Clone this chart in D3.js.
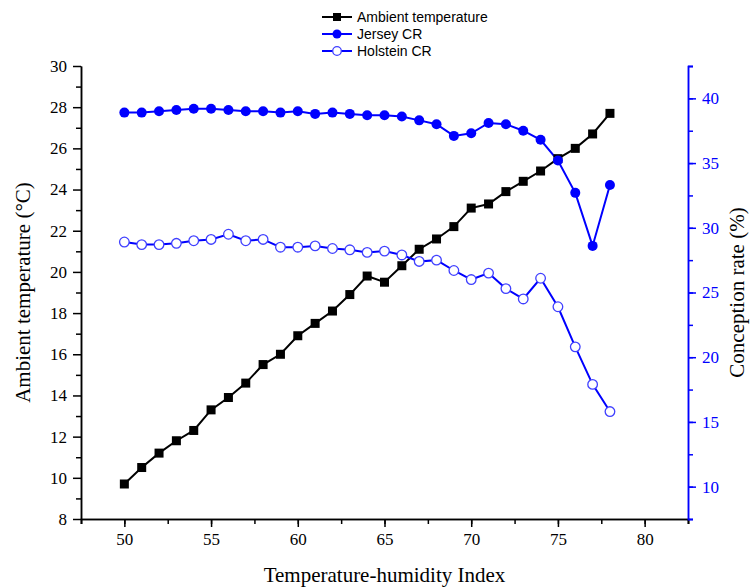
<!DOCTYPE html>
<html><head><meta charset="utf-8">
<script src="https://cdn.jsdelivr.net/npm/d3@7"></script>
<style>body{margin:0;background:#fff}svg{display:block}
.tick text{font-family:'Liberation Serif','Times New Roman',serif !important;}
</style>
</head><body>
<script>
const thi = [50,51,52,53,54,55,56,57,58,59,60,61,62,63,64,65,66,67,68,69,70,71,72,73,74,75,76,77,78];
const ambient = [9.7,10.5,11.2,11.8,12.3,13.3,13.9,14.6,15.5,16.0,16.9,17.5,18.1,18.9,19.8,19.5,20.3,21.1,21.6,22.2,23.1,23.3,23.9,24.4,24.9,25.5,26.0,26.7,27.7];
const jersey = [38.9,38.9,39.0,39.1,39.2,39.2,39.1,39.0,39.0,38.9,39.0,38.8,38.9,38.8,38.7,38.7,38.6,38.3,38.0,37.1,37.3,38.1,38.0,37.5,36.8,35.2,32.7,28.6,33.3];
const holstein = [28.9,28.7,28.7,28.8,29.0,29.1,29.5,29.0,29.1,28.5,28.5,28.6,28.4,28.3,28.1,28.2,27.9,27.4,27.5,26.7,26.0,26.5,25.3,24.5,26.1,23.9,20.8,17.9,15.8];
const xTicks = [50,55,60,65,70,75,80];
const yLeftTicks = [8,10,12,14,16,18,20,22,24,26,28,30];
const yRightTicks = [10,15,20,25,30,35,40];
const seriesNames = ["Ambient temperature","Jersey CR","Holstein CR"];

const W=751,H=587, m={l:81,r:63,t:66,b:68};
const svg=d3.select("body").append("svg").attr("width",W).attr("height",H);
const x=d3.scaleLinear().domain([47.5,82.5]).range([m.l,W-m.r]);
const yL=d3.scaleLinear().domain([8,30]).range([H-m.b,m.t]);
const yR=d3.scaleLinear().domain([7.5,42.5]).range([H-m.b,m.t]);
const BLUE="#0000ff";
const serif="'Liberation Serif','Times New Roman',serif";

function minorVals(a,b,s){const r=[];for(let v=a;v<=b+1e-9;v+=s)r.push(+v.toFixed(3));return r;}

function styleAxis(g,col){
  g.attr("font-family",serif).attr("font-size",17);
  g.selectAll("path.domain").attr("stroke",col).attr("stroke-width",1.5);
  g.selectAll(".tick line").attr("stroke",col).attr("stroke-width",1.5);
  g.selectAll("text").style("font-family",serif).attr("font-size",17).attr("fill",col);
}

// X axis
const gx=svg.append("g").attr("transform",`translate(0,${H-m.b})`);
gx.append("g").call(d3.axisBottom(x).tickValues(minorVals(47.5,82.5,2.5)).tickSize(5).tickSizeOuter(5).tickFormat(""));
gx.append("g").call(d3.axisBottom(x).tickValues(xTicks).tickSize(8).tickSizeOuter(5).tickPadding(6).tickFormat(d3.format("d")));
styleAxis(gx,"#000");

// Left axis
const gl=svg.append("g").attr("transform",`translate(${m.l},0)`);
gl.append("g").call(d3.axisLeft(yL).tickValues(minorVals(9,29,2)).tickSize(5).tickSizeOuter(0).tickFormat(""));
gl.append("g").call(d3.axisLeft(yL).tickValues(yLeftTicks).tickSize(8).tickSizeOuter(0).tickPadding(6).tickFormat(d3.format("d")));
styleAxis(gl,"#000");

// Right axis
const gr=svg.append("g").attr("transform",`translate(${W-m.r},0)`);
gr.append("g").call(d3.axisRight(yR).tickValues(minorVals(7.5,42.5,2.5)).tickSize(5).tickSizeOuter(5).tickFormat(""));
gr.append("g").call(d3.axisRight(yR).tickValues(yRightTicks).tickSize(8).tickSizeOuter(5).tickPadding(6).tickFormat(d3.format("d")));
styleAxis(gr,BLUE);

// Axis titles
svg.append("text").attr("x",(m.l+W-m.r)/2).attr("y",582).attr("text-anchor","middle")
  .attr("font-family",serif).attr("font-size",21).text("Temperature-humidity Index");
svg.append("text").attr("transform",`translate(30,${(m.t+H-m.b)/2}) rotate(-90)`).attr("text-anchor","middle")
  .attr("font-family",serif).attr("font-size",21).text("Ambient temperature (\u00B0C)");
svg.append("text").attr("transform",`translate(744,${(m.t+H-m.b)/2}) rotate(-90)`).attr("text-anchor","middle")
  .attr("font-family",serif).attr("font-size",21).text("Conception rate (%)");

// Series
const lineL=d3.line().x((d,i)=>x(thi[i])).y(d=>yL(d));
const lineR=d3.line().x((d,i)=>x(thi[i])).y(d=>yR(d));
svg.append("path").datum(ambient).attr("d",lineL).attr("fill","none").attr("stroke","#000").attr("stroke-width",2);
svg.append("path").datum(jersey).attr("d",lineR).attr("fill","none").attr("stroke",BLUE).attr("stroke-width",2);
svg.append("path").datum(holstein).attr("d",lineR).attr("fill","none").attr("stroke",BLUE).attr("stroke-width",2);

svg.append("g").selectAll("rect").data(ambient).join("rect")
  .attr("x",(d,i)=>x(thi[i])-4.5).attr("y",d=>yL(d)-4.5).attr("width",9).attr("height",9).attr("fill","#000");
svg.append("g").selectAll("circle").data(jersey).join("circle")
  .attr("cx",(d,i)=>x(thi[i])).attr("cy",d=>yR(d)).attr("r",5).attr("fill",BLUE);
svg.append("g").selectAll("circle").data(holstein).join("circle")
  .attr("cx",(d,i)=>x(thi[i])).attr("cy",d=>yR(d)).attr("r",4.8).attr("fill","#fff").attr("stroke","#4040ff").attr("stroke-width",1.3);

// Legend
const leg=svg.append("g");
const ly=[17,34,51];
seriesNames.forEach((name,i)=>{
  const col=i===0?"#000":BLUE;
  leg.append("line").attr("x1",322).attr("x2",352).attr("y1",ly[i]).attr("y2",ly[i]).attr("stroke",col).attr("stroke-width",2);
  if(i===0) leg.append("rect").attr("x",333).attr("y",ly[i]-4).attr("width",8).attr("height",8).attr("fill","#000");
  else if(i===1) leg.append("circle").attr("cx",337).attr("cy",ly[i]).attr("r",4.5).attr("fill",BLUE);
  else leg.append("circle").attr("cx",337).attr("cy",ly[i]).attr("r",4.3).attr("fill","#fff").attr("stroke","#4040ff").attr("stroke-width",1.3);
  leg.append("text").attr("x",357).attr("y",ly[i]).attr("dy","0.35em").attr("font-family","'Liberation Sans',Arial,sans-serif")
    .attr("font-size",14).attr("fill","#000").text(name);
});
</script>
</body></html>
